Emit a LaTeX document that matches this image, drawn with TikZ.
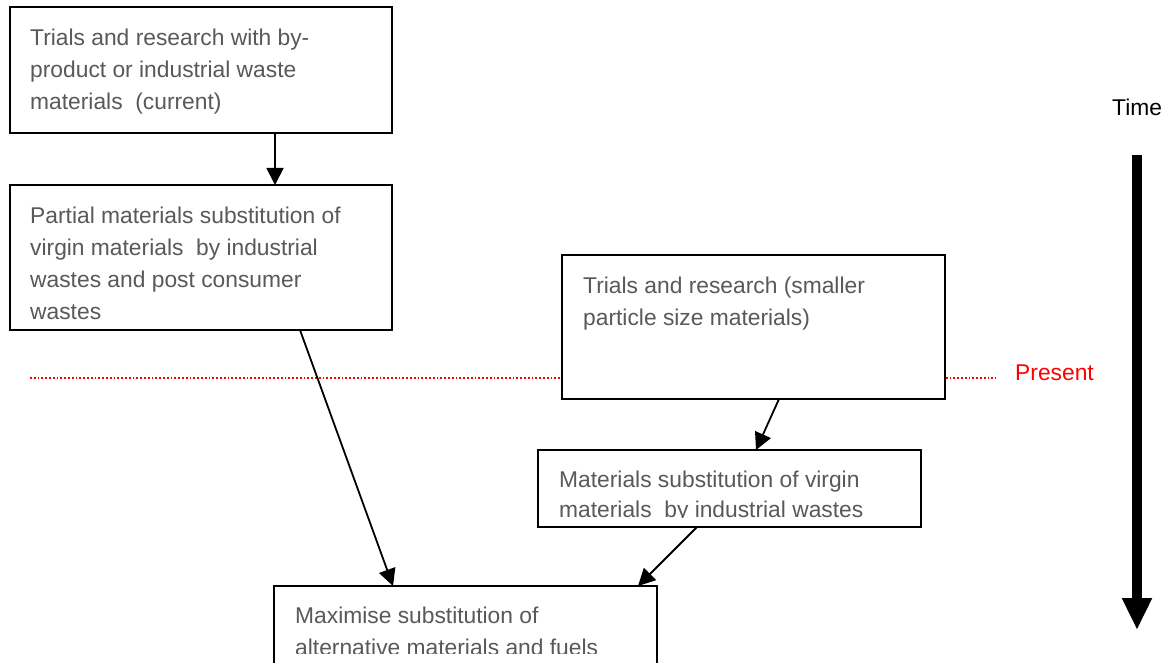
\documentclass[tikz,border=0pt]{standalone}
\usepackage{fontspec}
\setmainfont{Liberation Sans}
\usetikzlibrary{arrows.meta}
\definecolor{textgray}{RGB}{89,89,89}
\begin{document}
\begin{tikzpicture}[x=1pt,y=-1pt,
  box/.style={draw=black,line width=2pt,fill=white,inner sep=0pt,outer sep=0pt},
  boxtext/.style={anchor=north west,inner sep=0pt,align=left,text=textgray,font=\fontsize{22.8}{32}\selectfont},
  conn/.style={line width=1.8pt,-{Triangle[width=17pt,length=17pt]}},
  presentline/.style={red,dotted,line width=1.8pt}]
\useasboundingbox (0,0) rectangle (1168,663);
\clip (0,0) rectangle (1168,663);
% present line (behind box3)
\coordinate (p1) at (30,378);
\coordinate (p2) at (996,378);
\draw[presentline] (p1) -- (p2);
% boxes
\node[box,minimum width=382pt,minimum height=126pt] (b1) at (201,70) {};
\node[box,minimum width=382pt,minimum height=145pt] (b2) at (201,257.5) {};
\node[box,minimum width=383pt,minimum height=144pt] (b3) at (753.5,327) {};
\node[box,minimum width=383pt,minimum height=77pt] (b4) at (729.5,488.5) {};
\node[box,minimum width=383pt,minimum height=114pt] (b5) at (465.5,643) {};
% texts
\node[boxtext] (t1) at (30,22.6) {\strut Trials and research with by-\\product or industrial waste\\materials\ \ (current)};
\node[boxtext] (t2) at (30,200.6) {\strut Partial materials substitution of\\virgin materials\ \ by industrial\\wastes and post consumer\\wastes};
\node[boxtext] (t3) at (583,270.6) {\strut Trials and research (smaller\\particle size materials)};
\begin{scope}
\clip (541,453) rectangle (918,517);
\node[boxtext,font=\fontsize{22.8}{30.5}\selectfont] (t4) at (559,465.6) {\strut Materials substitution of virgin\\materials\ \ by industrial wastes};
\end{scope}
\begin{scope}
\clip (277,589) rectangle (654,653);
\node[boxtext] (t5) at (295,600.6) {\strut Maximise substitution of\\alternative materials and fuels};
\end{scope}
% connectors
\draw[conn] ([xshift=74pt]b1.south) -- ([xshift=74pt]b2.north);
\draw[conn] ([xshift=99pt]b2.south) -- ([xshift=-72.5pt]b5.north);
\draw[conn] ([xshift=25.5pt]b3.south) -- ([xshift=26.5pt]b4.north);
\draw[conn] ([xshift=-32.5pt]b4.south) -- ([xshift=172.5pt]b5.north);
% labels
\node[anchor=base west,inner sep=0pt,text=red,font=\fontsize{22.8}{27}\selectfont] (present) at (1015,380) {Present};
\node[anchor=base west,inner sep=0pt,text=black,font=\fontsize{22.8}{27}\selectfont] (time) at (1112,116) {Time};
% time arrow
\coordinate (ta) at (1137,155);
\coordinate (tb) at (1137,630);
\draw[line width=10pt,-{Triangle[width=28pt,length=32pt]}] (ta) -- (tb);
\end{tikzpicture}
\end{document}
